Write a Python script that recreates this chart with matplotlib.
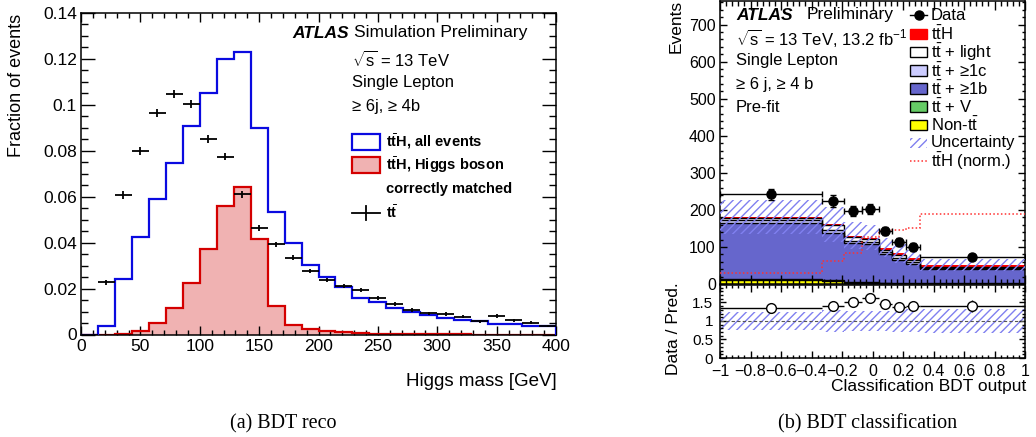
import numpy as np
import matplotlib
matplotlib.use("Agg")
import matplotlib.pyplot as plt
from matplotlib.patches import Rectangle
from matplotlib.lines import Line2D
from matplotlib.ticker import MultipleLocator, FuncFormatter

plt.rcParams["font.family"] = ["Liberation Sans", "DejaVu Sans"]
plt.rcParams["mathtext.fontset"] = "custom"
plt.rcParams["mathtext.rm"] = "Liberation Sans"
plt.rcParams["mathtext.it"] = "Liberation Sans:italic"
plt.rcParams["mathtext.bf"] = "Liberation Sans:bold"
plt.rcParams["hatch.linewidth"] = 1.0
plt.rcParams["hatch.color"] = "#8080f0"

# (a) BDT reco: Higgs mass, 28 bins from 0 to 400 GeV
mass_edges = np.linspace(0, 400, 29)
tth_all = [0.0, 0.0037, 0.0240, 0.0423, 0.0590, 0.0746, 0.0910, 0.1050, 0.1200, 0.1228,
           0.0900, 0.0535, 0.0397, 0.0302, 0.0249, 0.0208, 0.0160, 0.0140, 0.0116, 0.0099,
           0.0087, 0.0074, 0.0065, 0.0058, 0.0044, 0.0044, 0.0036, 0.0036]
tth_matched = [0.0, 0.0, 0.0004, 0.0016, 0.0050, 0.0116, 0.0224, 0.0372, 0.0558, 0.0641,
               0.0414, 0.0125, 0.0040, 0.0023, 0.0014, 0.0009, 0.0005, 0.0003, 0.0002, 0.0002,
               0.0001, 0.0001, 0.0001, 0.0, 0.0, 0.0, 0.0, 0.0]
ttbar = [0.0, 0.0227, 0.0607, 0.0800, 0.0964, 0.1048, 0.1003, 0.0852, 0.0775, 0.0610,
         0.0462, 0.0392, 0.0334, 0.0277, 0.0237, 0.0211, 0.0192, 0.0160, 0.0132, 0.0106,
         0.0092, 0.0089, 0.0077, 0.0058, 0.0081, 0.0062, 0.0052, 0.0037]
ttbar_err = [0.0, 0.0012, 0.0018, 0.0018, 0.0018, 0.0018, 0.0018, 0.0017, 0.0016, 0.0015,
             0.0013, 0.0012, 0.0011, 0.0010, 0.0010, 0.0010, 0.0009, 0.0009, 0.0008, 0.0008,
             0.0008, 0.0008, 0.0007, 0.0007, 0.0007, 0.0007, 0.0006, 0.0006]

# (b) BDT classification, 8 bins
bdt_edges = np.array([-1.0, -0.33, -0.19, -0.07, 0.04, 0.13, 0.22, 0.31, 1.0])
data = np.array([242, 224, 197, 202, 143, 114, 100, 73])
data_err = np.array([15.5, 15.0, 14.0, 14.2, 12.0, 10.7, 10.0, 8.5])
non_tt = np.array([11, 8, 4, 3, 1.5, 1, 1, 0.8])
tt_v = np.array([3, 2.5, 2, 2, 1.5, 1.5, 1, 1])
tt_1b = np.array([151, 128, 105, 102, 77, 62, 53, 38])
tt_1c = np.array([8, 8, 5, 5, 6, 5, 4, 3])
tt_light = np.array([6, 12, 11, 8.5, 7, 8.5, 7, 4])
tth = np.array([2, 2.5, 3, 4.5, 5, 5, 5, 5.2])
unc_rel = np.array([0.25, 0.29, 0.28, 0.27, 0.27, 0.31, 0.31, 0.32])
tth_norm = np.array([31, 63, 84, 128, 142, 145, 152, 188])

W, H = 1036.0, 437.0
fig = plt.figure(figsize=(W / 100, H / 100), dpi=100)


def px_axes(x0, y0, x1, y1):
    return fig.add_axes([x0 / W, 1 - y1 / H, (x1 - x0) / W, (y1 - y0) / H])


def ftext(x, y, s, **kw):
    kw.setdefault("va", "center")
    return fig.text(x / W, 1 - y / H, s, **kw)


def frect(x0, y0, x1, y1, **kw):
    fig.add_artist(Rectangle((x0 / W, 1 - y1 / H), (x1 - x0) / W, (y1 - y0) / H,
                             transform=fig.transFigure, **kw))


def fline(xs, ys, **kw):
    fig.add_artist(Line2D([x / W for x in xs], [1 - y / H for y in ys],
                          transform=fig.transFigure, **kw))


def fmt_g(v, _):
    v = round(v, 6) + 0.0
    return f"{v:g}".replace("-", "\u2212")


def root_ticks(ax, ymaj, ymin, xmaj, xmin, ylen, xlen, lsize):
    ax.xaxis.set_major_locator(MultipleLocator(xmaj))
    ax.xaxis.set_minor_locator(MultipleLocator(xmin))
    ax.yaxis.set_major_locator(MultipleLocator(ymaj))
    ax.yaxis.set_minor_locator(MultipleLocator(ymin))
    ax.xaxis.set_major_formatter(FuncFormatter(fmt_g))
    ax.yaxis.set_major_formatter(FuncFormatter(fmt_g))
    ax.tick_params(which="both", direction="in", top=True, right=True,
                   labelsize=lsize, width=1.0, pad=3)
    ax.tick_params(axis="y", which="major", length=ylen)
    ax.tick_params(axis="y", which="minor", length=ylen / 2)
    ax.tick_params(axis="x", which="major", length=xlen)
    ax.tick_params(axis="x", which="minor", length=xlen / 2)
    for s in ax.spines.values():
        s.set_linewidth(1.1)


# ---------------- (a) ----------------
ax = px_axes(81, 13, 556, 334.5)
centers = 0.5 * (mass_edges[1:] + mass_edges[:-1])
half = 0.5 * np.diff(mass_edges)
ax.stairs(tth_matched, mass_edges, fill=True, color="#f0b2b2", zorder=1)
ax.stairs(tth_matched, mass_edges, color="#d40000", lw=1.6, zorder=2)
ax.stairs(tth_all, mass_edges, color="#0a0ae0", lw=1.6, zorder=3)
ax.errorbar(centers, ttbar, xerr=half, yerr=ttbar_err, fmt="none",
            ecolor="black", elinewidth=1.3, capsize=0, zorder=4)
ax.set_xlim(0, 400)
ax.set_ylim(0, 0.14)
root_ticks(ax, 0.02, 0.005, 50, 10, 10, 6.5, 12.5)

ftext(17, 14, "Fraction of events", rotation=90, ha="center", va="top", fontsize=13)
ftext(557, 381, "Higgs mass [GeV]", ha="right", fontsize=13.5)
ftext(292, 33, "ATLAS", fontsize=12.5, weight="bold", style="italic")
ftext(354, 33, "Simulation Preliminary", fontsize=12.5)
ftext(352, 60, r"$\sqrt{\mathrm{s}}$ = 13 TeV", fontsize=12)
ftext(352, 83, "Single Lepton", fontsize=12)
ftext(352, 107, "\u2265 6j, \u2265 4b", fontsize=12)

frect(352, 134, 380, 150, facecolor="white", edgecolor="#0a0ae0", lw=1.6)
ftext(386, 142, r"t$\bar{\mathbf{t}}$H, all events", fontsize=10.5, weight="bold")
frect(352, 157, 380, 173, facecolor="#f0b2b2", edgecolor="#d40000", lw=1.6)
ftext(386, 165, r"t$\bar{\mathbf{t}}$H, Higgs boson", fontsize=10.5, weight="bold")
ftext(386, 189, "correctly matched", fontsize=10.5, weight="bold")
fline([352, 380], [213, 213], color="black", lw=1.3)
fline([366, 366], [206, 220], color="black", lw=1.3)
ftext(386, 213, r"t$\bar{\mathbf{t}}$", fontsize=10.5, weight="bold")

# ---------------- (b) main ----------------
axb = px_axes(720, 0.5, 1025, 284)
layers = [(non_tt, "#ffff00"), (tt_v, "#66cc66"), (tt_1b, "#6666cc"),
          (tt_1c, "#ccccff"), (tt_light, "white"), (tth, "#ff0000")]
base = np.zeros(len(data), dtype=float)
for vals, col in layers:
    top = base + vals
    axb.stairs(top, bdt_edges, baseline=base, fill=True, color=col, lw=0, zorder=1)
    if col != "#ff0000":
        axb.stairs(top, bdt_edges, baseline=None, color="black", lw=1.0, zorder=2)
    base = top
total = base
axb.stairs(total * (1 + unc_rel), bdt_edges, baseline=total * (1 - unc_rel), fill=True,
           facecolor="none", edgecolor="#8080f0", hatch="////", lw=0, zorder=3)
axb.stairs(tth_norm, bdt_edges, baseline=None, color="#ff3030", ls=(0, (1, 1.5)), lw=1.1, zorder=4)
bc = 0.5 * (bdt_edges[1:] + bdt_edges[:-1])
bh = 0.5 * np.diff(bdt_edges)
axb.errorbar(bc, data, xerr=bh, yerr=data_err, fmt="o", color="black", ms=6.5,
             elinewidth=1.0, capsize=2.5, capthick=1.0, zorder=5)
axb.set_xlim(-1, 1)
axb.set_ylim(0, 765)
root_ticks(axb, 100, 20, 0.2, 0.04, 5, 6.5, 11.5)
axb.tick_params(labelbottom=False)

# ratio
axr = px_axes(720, 285, 1025, 358)
ratio = data / total
ratio_err = data_err / total
axr.stairs(1 + unc_rel, bdt_edges, baseline=1 - unc_rel, fill=True,
           facecolor="none", edgecolor="#8080f0", hatch="////", lw=0, zorder=1)
axr.axhline(1, color="#555555", ls=(0, (3, 2)), lw=0.8, zorder=2)
axr.errorbar(bc, ratio, xerr=bh, yerr=ratio_err, fmt="o", color="black", mfc="white",
             mec="black", ms=7, elinewidth=1.0, capsize=0, zorder=3)
axr.set_xlim(-1, 1)
axr.set_ylim(0, 1.97)
root_ticks(axr, 0.5, 0.1, 0.2, 0.04, 4.3, 5, 11.5)
axr.tick_params(axis="y", labelsize=11, pad=5)
axr.tick_params(axis="x", pad=4)

ftext(676, 0, "Events", rotation=90, ha="center", va="top", fontsize=12.5)
ftext(674, 329, "Data / Pred.", rotation=90, ha="center", fontsize=12.5)
ftext(1026, 386, "Classification BDT output", ha="right", fontsize=12.5)

ftext(736, 15, "ATLAS", fontsize=12.5, weight="bold", style="italic")
ftext(807, 15, "Preliminary", fontsize=12.5)
ftext(736, 38, r"$\sqrt{\mathrm{s}}$ = 13 TeV, 13.2 fb$^{-1}$", fontsize=12)
ftext(736, 61, "Single Lepton", fontsize=12)
ftext(736, 84, "\u2265 6 j, \u2265 4 b", fontsize=12)
ftext(736, 107, "Pre-fit", fontsize=12)

# legend
lx0, lx1, tx = 910, 927, 931
fline([lx0, lx1], [15, 15], color="black", lw=1.0, zorder=5)
fline([(lx0 + lx1) / 2], [15], color="black", marker="o", ms=6.5, ls="none")
ftext(tx, 15, "Data", fontsize=12)
leg_boxes = [
    (34, "#ff0000", "#ff0000", r"t$\bar{\mathrm{t}}$H"),
    (52, "white", "black", r"t$\bar{\mathrm{t}}$ + light"),
    (70.5, "#ccccff", "black", "t$\\bar{\\mathrm{t}}$ + \u22651c"),
    (88.5, "#6666cc", "black", "t$\\bar{\\mathrm{t}}$ + \u22651b"),
    (106.5, "#66cc66", "black", r"t$\bar{\mathrm{t}}$ + V"),
    (125, "#ffff00", "black", r"Non-t$\bar{\mathrm{t}}$"),
]
for yc, fc, ec, lab in leg_boxes:
    frect(lx0, yc - 5, lx1, yc + 5, facecolor=fc, edgecolor=ec, lw=1.0)
    ftext(tx, yc, lab, fontsize=12)
frect(lx0, 138, lx1, 148, facecolor="none", edgecolor="#8080f0", hatch="////", lw=0)
ftext(tx, 143, "Uncertainty", fontsize=12)
fline([lx0, lx1], [161, 161], color="#ff3030", ls=(0, (1, 1.5)), lw=1.1)
ftext(tx, 161, r"t$\bar{\mathrm{t}}$H (norm.)", fontsize=12)

# captions
ftext(283, 424, "(a) BDT reco", ha="center", fontsize=14.5, family="Liberation Serif")
ftext(868, 424, "(b) BDT classification", ha="center", fontsize=14.5, family="Liberation Serif")

fig.savefig("out.png", dpi=100)
